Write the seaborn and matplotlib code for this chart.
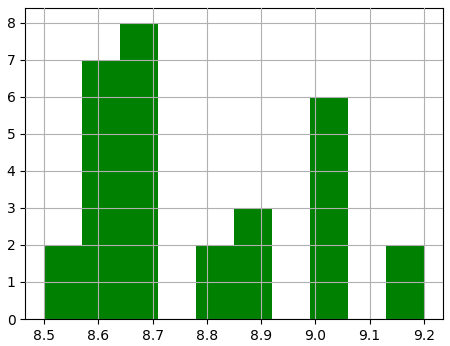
import matplotlib
matplotlib.use("Agg")
import matplotlib.pyplot as plt
import seaborn as sns
import numpy as np
import pandas as pd

bin_edges = [8.5, 8.57, 8.64, 8.71, 8.78, 8.85, 8.92, 8.99, 9.06, 9.13, 9.2]
counts = [2, 7, 8, 0, 2, 3, 0, 6, 0, 2]
x_ticks = [8.5, 8.6, 8.7, 8.8, 8.9, 9.0, 9.1, 9.2]
y_ticks = [0, 1, 2, 3, 4, 5, 6, 7, 8]

centers = [(a + b) / 2 for a, b in zip(bin_edges[:-1], bin_edges[1:])]
df = pd.DataFrame({"value": centers, "count": counts})

fig, ax = plt.subplots(figsize=(4.5, 3.46), dpi=100)
fig.subplots_adjust(left=0.056, right=0.984, top=0.977, bottom=0.078)
sns.histplot(data=df, x="value", weights="count", bins=bin_edges,
             color="green", alpha=1.0, linewidth=0, ax=ax)
ax.set_xticks(x_ticks)
ax.set_yticks(y_ticks)
ax.set_xlabel("")
ax.set_ylabel("")
ax.grid(True)
ax.set_axisbelow(False)
fig.savefig("out.png", dpi=100)
